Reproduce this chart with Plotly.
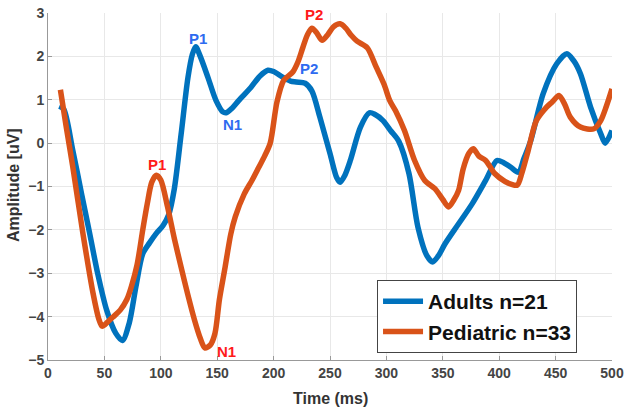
import plotly.graph_objects as go

# ---- data ----
adult_t = [10, 14, 22, 30, 37, 44, 52, 60, 66, 72, 78, 84, 90, 96, 102, 107, 112, 118, 124, 128,
           131, 135, 142, 149, 155, 158, 163, 169, 180, 188, 195, 200, 208, 215, 220, 228, 234, 241,
           250, 256, 259, 263, 268, 277, 285, 290, 297, 304, 311, 320, 328, 336, 341, 346, 352, 364,
           376, 388, 398, 404, 410, 417, 422, 428, 439, 451, 460, 466, 472, 481, 490, 494, 500]
adult_v = [0.85, 0.78, -0.17, -1.2, -2.09, -3.0, -3.85, -4.38, -4.55, -4.15, -3.3, -2.55, -2.3, -2.08,
           -1.9, -1.65, -1.05, 0.2, 1.5, 2.05, 2.22, 2.0, 1.5, 0.98, 0.72, 0.7, 0.8, 0.98, 1.29, 1.55,
           1.68, 1.65, 1.52, 1.43, 1.41, 1.38, 1.2, 0.6, -0.24, -0.8, -0.9, -0.75, -0.4, 0.37, 0.7,
           0.66, 0.52, 0.28, 0.04, -0.7, -1.94, -2.6, -2.74, -2.6, -2.32, -1.86, -1.4, -0.86, -0.4,
           -0.45, -0.55, -0.67, -0.35, 0.06, 1.14, 1.83, 2.06, 1.9, 1.6, 0.83, 0.22, 0.0, 0.29]

ped_t = [11, 16, 22, 31, 40, 45, 48, 53, 58, 64, 70, 74, 79, 84, 88, 92, 96, 100, 106, 112, 118,
         124, 130, 135, 139, 144, 148, 152, 157, 162, 166, 174, 181, 187, 192, 197, 203, 209, 217,
         222, 226, 230, 234, 238, 243, 248, 253, 259, 264, 269, 274, 283, 291, 298, 303, 308, 316,
         325, 334, 343, 350, 355, 360, 364, 368, 373, 377, 382, 388, 396, 405, 411, 416, 420, 425,
         433, 442, 447, 453, 458, 463, 472, 484, 490, 495, 500]
ped_v = [1.23, 0.4, -0.55, -2.09, -3.47, -4.05, -4.22, -4.12, -4.0, -3.85, -3.6, -3.3, -2.8, -2.0,
         -1.4, -0.9, -0.74, -0.85, -1.47, -2.2, -2.86, -3.5, -4.09, -4.5, -4.72, -4.65, -4.39, -3.6,
         -2.86, -2.1, -1.7, -1.17, -0.85, -0.55, -0.3, 0.0, 0.95, 1.45, 1.64, 1.9, 2.21, 2.5, 2.65,
         2.55, 2.37, 2.5, 2.68, 2.75, 2.65, 2.48, 2.35, 2.2, 1.75, 1.35, 0.98, 0.75, 0.29, -0.4,
         -0.86, -1.05, -1.3, -1.47, -1.3, -1.09, -0.6, -0.24, -0.13, -0.3, -0.4, -0.7, -0.88, -0.95,
         -0.97, -0.7, -0.24, 0.52, 0.83, 0.95, 1.1, 0.9, 0.6, 0.37, 0.33, 0.52, 0.85, 1.25]

series_names = ["Adults n=21", "Pediatric n=33"]
series_colors = ["#0072BD", "#D95319"]

label_text = ["P1", "N1", "P2", "P1", "N1", "P2"]
label_t = [133, 164, 231, 97, 158, 236]
label_v = [2.41, 0.43, 1.72, -0.49, -4.8, 2.96]
label_colors = ["#2E6BF0", "#2E6BF0", "#2E6BF0", "#FF1A1A", "#FF1A1A", "#FF1A1A"]

x_ticks = [0, 50, 100, 150, 200, 250, 300, 350, 400, 450, 500]
y_ticks = [-5, -4, -3, -2, -1, 0, 1, 2, 3]

FONT = "Liberation Sans, Arial, sans-serif"

fig = go.Figure()
for t, v, name, col in [(adult_t, adult_v, series_names[0], series_colors[0]),
                        (ped_t, ped_v, series_names[1], series_colors[1])]:
    fig.add_trace(go.Scatter(x=t, y=v, mode="lines", name=name,
                             line=dict(color=col, width=5.5, shape="spline", smoothing=0.8)))

for txt, t, v, c in zip(label_text, label_t, label_v, label_colors):
    fig.add_annotation(x=t, y=v, xref="x", yref="y", text=txt, showarrow=False,
                       font=dict(family=FONT, size=15, color=c, weight="bold"))

# axis titles
fig.add_annotation(x=0.5, y=0, xref="paper", yref="paper", text="Time (ms)", showarrow=False,
                   yanchor="middle", yshift=-38,
                   font=dict(family=FONT, size=16, color="#333333", weight="bold"))
fig.add_annotation(x=0, y=0.504, xref="paper", yref="paper", text="Amplitude [uV]", showarrow=False,
                   textangle=-90, xanchor="center", yanchor="middle", xshift=-35,
                   font=dict(family=FONT, size=16, color="#333333", weight="bold"))

axis_common = dict(showgrid=True, gridcolor="#e8e8e8", gridwidth=1, showline=True,
                   linecolor="#999999", linewidth=1, ticks="inside", ticklen=4,
                   tickcolor="#999999", zeroline=False, automargin=False,
                   tickfont=dict(family=FONT, size=14, color="#444444", weight="bold"))

fig.update_xaxes(range=[0, 500], tickvals=x_ticks, **axis_common)
fig.update_yaxes(range=[-5, 3], tickvals=y_ticks, **axis_common)

fig.update_layout(
    width=630, height=411,
    margin=dict(l=48, r=18, t=13, b=51, autoexpand=False),
    plot_bgcolor="white", paper_bgcolor="white",
    showlegend=True,
    legend=dict(x=0.938, y=0.02, xanchor="right", yanchor="bottom",
                bgcolor="white", bordercolor="#444444", borderwidth=1,
                font=dict(family=FONT, size=21, color="#111111", weight="bold"),
                tracegroupgap=0, itemwidth=40),
)

fig.write_html("out.html")
